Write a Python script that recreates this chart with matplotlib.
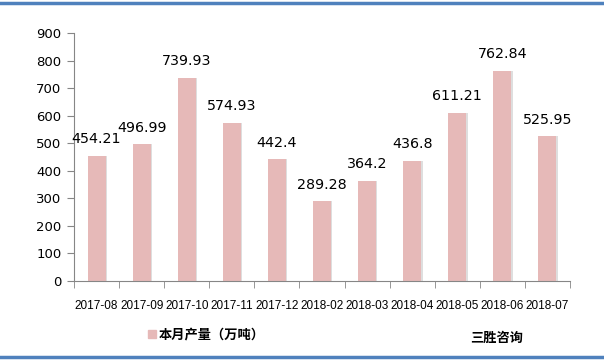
import matplotlib
matplotlib.use("Agg")
import matplotlib.pyplot as plt
from matplotlib.patches import Rectangle
from matplotlib.lines import Line2D

plt.rcParams['font.family'] = ['DejaVu Sans', 'Noto Sans CJK SC']

# datos del grafico
months = ['2017-08', '2017-09', '2017-10', '2017-11', '2017-12', '2018-02',
          '2018-03', '2018-04', '2018-05', '2018-06', '2018-07']
values = [454.21, 496.99, 739.93, 574.93, 442.4, 289.28,
          364.2, 436.8, 611.21, 762.84, 525.95]
labels = ['454.21', '496.99', '739.93', '574.93', '442.4', '289.28',
          '364.2', '436.8', '611.21', '762.84', '525.95']
yticks = [0, 100, 200, 300, 400, 500, 600, 700, 800, 900]

bar_color = '#E6B9B8'
axis_color = '#868686'

fig = plt.figure(figsize=(6.04, 3.62), dpi=100)
ax = fig.add_axes([0.1225, 0.2238, 0.8212, 0.6837])

x = list(range(len(months)))
# sombra a la derecha
ax.bar([i + 0.03 for i in x], values, width=0.4, color='#dedede', zorder=1)
ax.bar(x, values, width=0.4, color=bar_color, zorder=2)

for i, v in enumerate(values):
    ax.annotate(labels[i], (i, v), xytext=(0, 7), textcoords='offset points',
                ha='center', va='bottom', fontsize=10.3, color='black')

ax.set_xlim(-0.5, len(months) - 0.5)
ax.set_ylim(0, 900)
ax.set_yticks(yticks)
ax.set_yticklabels([str(t) for t in yticks], fontsize=9.5)
ax.set_xticks(x)
ax.set_xticklabels(months, fontsize=8.5, family=['Liberation Sans'])
ax.set_xticks([i - 0.5 for i in range(len(months) + 1)], minor=True)
ax.tick_params(axis='x', which='major', length=0, pad=14)
ax.tick_params(axis='x', which='minor', length=5, color=axis_color, direction='out')
ax.tick_params(axis='y', length=5, color=axis_color, direction='out', pad=4)

for s in ['top', 'right']:
    ax.spines[s].set_visible(False)
ax.spines['left'].set_color(axis_color)
ax.spines['bottom'].set_color(axis_color)

# leyenda hecha a mano
fig.patches.append(Rectangle((148 / 604, 1 - 338 / 362), 8 / 604, 8 / 362,
                             transform=fig.transFigure, color=bar_color))
fig.text(159 / 604, 1 - 334 / 362, '本月产量（万吨）', fontsize=9.5, fontweight='bold',
         family=['Noto Sans CJK SC'], va='center', ha='left')
fig.text(470 / 604, 1 - 338 / 362, '三胜咨询', fontsize=9.5, fontweight='bold',
         family=['Noto Sans CJK SC'], va='center', ha='left')

# lineas azules arriba y abajo
fig.lines.append(Line2D([0, 1], [1 - 3 / 362, 1 - 3 / 362], transform=fig.transFigure,
                        color='#4F81BD', linewidth=2.5))
fig.lines.append(Line2D([0, 1], [1 - 357 / 362, 1 - 357 / 362], transform=fig.transFigure,
                        color='#4F81BD', linewidth=2.5))

fig.savefig('out.png', dpi=100)
